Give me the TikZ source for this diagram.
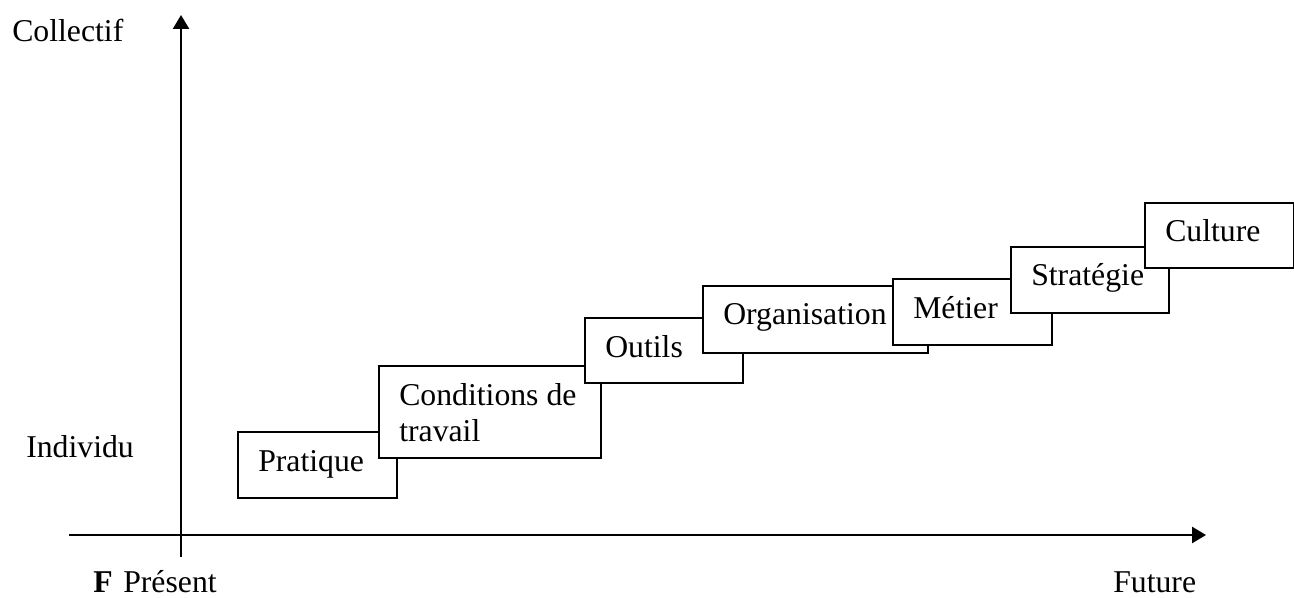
\documentclass[tikz,border=0pt]{standalone}
\usepackage{fontspec}
\setmainfont{Liberation Serif}
\usetikzlibrary{arrows.meta}
\begin{document}
\begin{tikzpicture}[x=0.75pt,y=-0.75pt,
  stepbox/.style={draw, line width=1.5pt, fill=white, anchor=north west, inner sep=0pt},
  lbl/.style={anchor=base west, align=left, inner sep=0pt, font=\fontsize{23.8pt}{27pt}\selectfont},
  axis/.style={line width=1.9pt, -{Triangle[length=10.5pt,width=12pt]}}]
\useasboundingbox (0,0) rectangle (1294,598);
% axes
\coordinate (ybot) at (181,557);
\coordinate (ytop) at (181,15);
\coordinate (xleft) at (69,535);
\coordinate (xright) at (1206,535);
\draw[axis] (ybot) -- (ytop);
\draw[axis] (xleft) -- (xright);
% axis labels
\node[lbl] (collectif) at (12,42) {Collectif};
\node[lbl] (individu) at (26,457) {Individu};
\node[lbl, font=\fontsize{23.8pt}{27pt}\selectfont\bfseries] (f) at (93,592) {F};
\node[lbl] (present) at (123,592) {Présent};
\node[lbl] (future) at (1113,592) {Future};
% boxes
\newcommand{\mybox}[6]{%
  \node[stepbox, minimum width={(#4-#2)*0.75pt}, minimum height={(#5-#3)*0.75pt}] (#1) at (#2,#3) {};
  \node[lbl] (#1-t) at ([shift={(21,40)}]#1.north west) {\begin{tabular}[t]{@{}l@{}}#6\end{tabular}};}
\mybox{pratique}{237}{431}{396}{497}{Pratique}
\mybox{conditions}{378}{365}{600}{457}{Conditions de\\travail}
\mybox{outils}{584}{317}{742}{382}{Outils}
\mybox{organisation}{702}{285}{927}{352}{Organisation}
\mybox{metier}{892}{278}{1051}{344}{Métier}
\mybox{strategie}{1010}{246}{1168}{312}{Stratégie}
\mybox{culture}{1144}{202}{1293}{267}{Culture}
\end{tikzpicture}
\end{document}
